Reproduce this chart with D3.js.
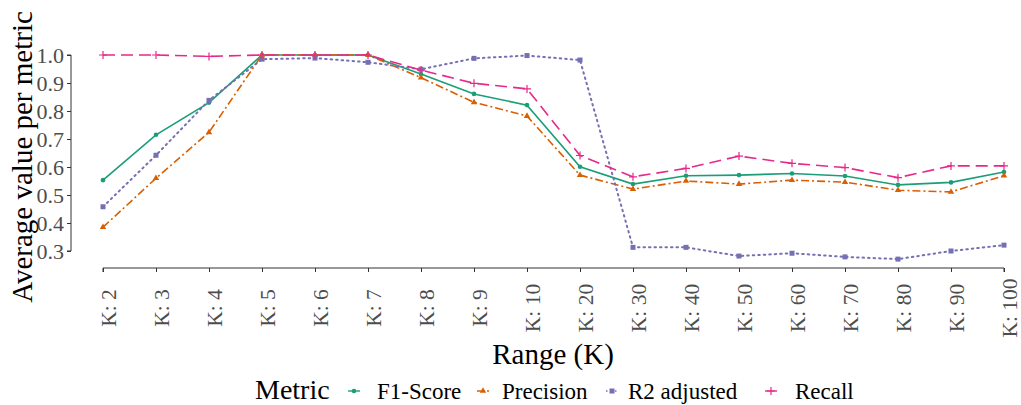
<!DOCTYPE html>
<html>
<head>
<meta charset="utf-8">
<script src="https://cdn.jsdelivr.net/npm/d3@7"></script>
<style>
  body { margin: 0; background: #fff; }
  svg text { font-family: "Liberation Serif", "Times New Roman", serif; }
</style>
</head>
<body>
<div id="chart"></div>
<script>
// categories and series values
const categories = ["K: 2","K: 3","K: 4","K: 5","K: 6","K: 7","K: 8","K: 9","K: 10",
                    "K: 20","K: 30","K: 40","K: 50","K: 60","K: 70","K: 80","K: 90","K: 100"];
const f1Score   = [0.553,0.715,0.830,1.0,1.0,1.0,0.932,0.861,0.821,0.601,0.539,0.569,0.571,0.577,0.568,0.536,0.545,0.582];
const precision = [0.385,0.560,0.724,1.0,1.0,1.0,0.919,0.831,0.782,0.571,0.521,0.550,0.539,0.553,0.546,0.517,0.511,0.569];
const r2adj     = [0.458,0.642,0.838,0.985,0.989,0.974,0.949,0.988,0.998,0.982,0.313,0.313,0.282,0.292,0.279,0.271,0.300,0.321];
const recall    = [1.0,1.0,0.995,1.0,1.0,1.0,0.946,0.899,0.879,0.641,0.565,0.595,0.639,0.613,0.598,0.562,0.604,0.604];
const yTicks = [0.3,0.4,0.5,0.6,0.7,0.8,0.9,1.0];
const seriesNames = ["F1-Score","Precision","R2 adjusted","Recall"];

const series = [
  {name: seriesNames[0], values: f1Score,   color: "#1B9E77", dash: null,      shape: "circle"},
  {name: seriesNames[1], values: precision, color: "#D95F02", dash: "8,3,2,3", shape: "triangle"},
  {name: seriesNames[2], values: r2adj,     color: "#7570B3", dash: "1.5,4",   shape: "square"},
  {name: seriesNames[3], values: recall,    color: "#E7298A", dash: "12,6",    shape: "plus"}
];

const W = 1021, H = 405;
const svg = d3.select("#chart").append("svg")
  .attr("width", W).attr("height", H);

const x = d3.scalePoint().domain(categories).range([103, 1004]);
const y = d3.scaleLinear().domain([0.3, 1.0]).range([251, 55]);
const axisY = 268;

// y axis (capped to tick range)
const gy = svg.append("g").attr("transform", "translate(71,0)")
  .call(d3.axisLeft(y).tickValues(yTicks).tickFormat(d3.format(".1f")).tickSize(4).tickPadding(3));
gy.select(".domain").attr("d", "M-4," + y(0.3) + "H0V" + y(1.0) + "H-4").attr("stroke", "#333");
gy.selectAll(".tick line").attr("stroke", "#333");
gy.selectAll(".tick text").attr("fill", "#4D4D4D").style("font-size", "22px");

// x axis (capped)
const gx = svg.append("g").attr("transform", "translate(0," + axisY + ")")
  .call(d3.axisBottom(x).tickSize(4).tickFormat(""));
gx.select(".domain").attr("d", "M" + x(categories[0]) + ",4V0H" + x(categories[categories.length-1]) + "V4").attr("stroke", "#333");
gx.selectAll(".tick line").attr("stroke", "#333");
gx.selectAll(".tick").append("text")
  .attr("transform", "translate(12,40) rotate(-90)")
  .attr("text-anchor", "middle")
  .attr("fill", "#4D4D4D")
  .style("font-size", "21.5px")
  .text(d => d);

// axis titles
svg.append("text")
  .attr("transform", "translate(32,157) rotate(-90)")
  .attr("text-anchor", "middle")
  .style("font-size", "29px")
  .attr("fill", "#000")
  .text("Average value per metric");

svg.append("text")
  .attr("x", 553).attr("y", 364)
  .attr("text-anchor", "middle")
  .style("font-size", "29px")
  .attr("fill", "#000")
  .text("Range (K)");

// line generator
const line = d3.line()
  .x((d, i) => x(categories[i]))
  .y(d => y(d));

function drawMarker(g, shape, cx, cy, color) {
  if (shape === "circle") {
    g.append("circle").attr("cx", cx).attr("cy", cy).attr("r", 2.3).attr("fill", color);
  } else if (shape === "triangle") {
    g.append("path").attr("d", d3.symbol(d3.symbolTriangle, 18)())
      .attr("transform", "translate(" + cx + "," + cy + ")").attr("fill", color);
  } else if (shape === "square") {
    g.append("rect").attr("x", cx - 2.5).attr("y", cy - 2.5).attr("width", 5).attr("height", 5).attr("fill", color);
  } else if (shape === "plus") {
    g.append("path").attr("d", "M" + (cx - 4) + "," + cy + "H" + (cx + 4) + "M" + cx + "," + (cy - 4) + "V" + (cy + 4))
      .attr("stroke", color).attr("stroke-width", 1.2);
  }
}

// draw series
series.forEach(s => {
  const g = svg.append("g");
  g.append("path").datum(s.values)
    .attr("d", line)
    .attr("fill", "none")
    .attr("stroke", s.color)
    .attr("stroke-width", s.shape === "square" ? 2 : 1.6)
    .attr("stroke-linecap", s.shape === "square" ? "round" : "butt")
    .attr("stroke-dasharray", s.dash);
  s.values.forEach((v, i) => drawMarker(g, s.shape, x(categories[i]), y(v), s.color));
});

// legend
const legY = 391;
svg.append("text").attr("x", 255).attr("y", 399)
  .style("font-size", "28px").attr("fill", "#000").text("Metric");

const legendItems = [
  {keyX: 348, textX: 377},
  {keyX: 477, textX: 502},
  {keyX: 606, textX: 628},
  {keyX: 765, textX: 795}
];
series.forEach((s, i) => {
  const g = svg.append("g");
  const kx = legendItems[i].keyX;
  g.append("line").attr("x1", kx).attr("x2", kx + 12).attr("y1", legY).attr("y2", legY)
    .attr("stroke", s.color).attr("stroke-width", 1.4)
    .attr("stroke-dasharray", s.shape === "square" ? "1.5,3" : (s.shape === "triangle" ? "4,2,2,2" : null));
  drawMarker(g, s.shape, kx + 6, legY, s.color);
  svg.append("text").attr("x", legendItems[i].textX).attr("y", 399)
    .style("font-size", "23px").attr("fill", "#000").text(s.name);
});
</script>
</body>
</html>
